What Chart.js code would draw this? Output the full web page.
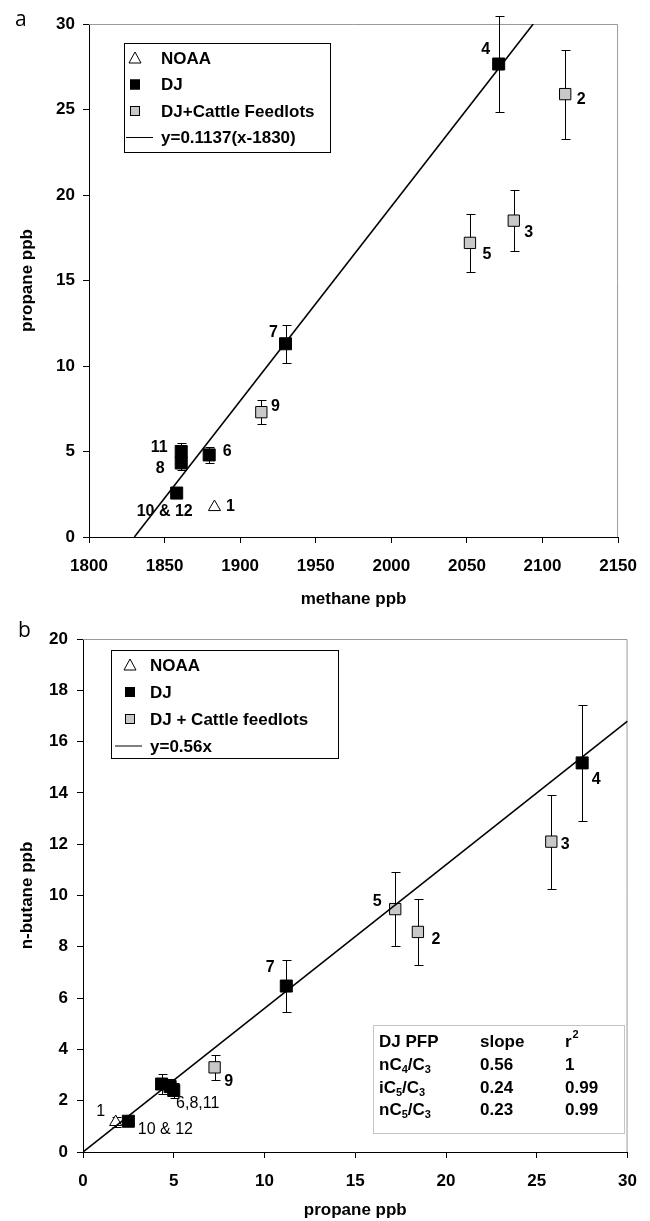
<!DOCTYPE html>
<html>
<head>
<meta charset="utf-8">
<script src="https://cdn.jsdelivr.net/npm/chart.js@4.4.1/dist/chart.umd.min.js"></script>
<style>
  html, body { margin: 0; padding: 0; background: #fff; }
  canvas { display: block; }
</style>
</head>
<body>
<canvas id="chartA" width="650" height="615"></canvas>
<canvas id="chartB" width="650" height="606"></canvas>
<script>
// ---- panel a : propane vs methane ----
const methaneNOAA = [1883];
const propaneNOAA = [1.75];
const propaneErrNOAA = [0];
const idsNOAA_a = ['1'];

const methaneDJ = [1858, 1861, 1861, 1879.5, 1930, 2071];
const propaneDJ = [2.57, 5.0, 4.33, 4.8, 11.3, 27.66];
const propaneErrDJ = [0.15, 0.5, 0.4, 0.45, 1.1, 2.8];
const idsDJ_a = ['10 & 12', '11', '8', '6', '7', '4'];

const methaneCattle = [1914, 2052, 2081, 2115];
const propaneCattle = [7.3, 17.2, 18.5, 25.9];
const propaneErrCattle = [0.7, 1.7, 1.8, 2.6];
const idsCattle_a = ['9', '5', '3', '2'];

const fitSlopeA = 0.1137;
const fitOffsetA = 1830;
const methaneTicks = { min: 1800, max: 2150, step: 50 };
const propaneTicksA = { min: 0, max: 30, step: 5 };

// ---- panel b : n-butane vs propane ----
const propaneNOAA_b = [1.8];
const butaneNOAA = [1.17];
const butaneErrNOAA = [0.2];
const idsNOAA_b = ['1'];

const propaneDJ_b = [2.5, 4.33, 4.8, 5.0, 11.2, 27.5];
const butaneDJ = [1.2, 2.65, 2.55, 2.4, 6.47, 15.17];
const butaneErrDJ = [0.1, 0.4, 0.3, 0.3, 1.0, 2.27];
const idsDJ_b = ['10 & 12', '', '', '6,8,11', '7', '4'];

const propaneCattle_b = [7.25, 17.2, 18.45, 25.8];
const butaneCattle = [3.3, 9.47, 8.58, 12.1];
const butaneErrCattle = [0.5, 1.43, 1.28, 1.83];
const idsCattle_b = ['9', '5', '2', '3'];

const fitSlopeB = 0.56;
const propaneTicksB = { min: 0, max: 30, step: 5 };
const butaneTicks = { min: 0, max: 20, step: 2 };

// table in panel b
const tableHead = ['DJ PFP', 'slope', 'r^2'];
const tableRatios = ['nC4/C3', 'iC5/C3', 'nC5/C3'];
const tableSlopes = ['0.56', '0.24', '0.23'];
const tableR2 = ['1', '0.99', '0.99'];

// label offsets (px) for the sample numbers
const offNOAA_a = [[16, 0]];
const offDJ_a = [[-12, 19], [-22, -4], [-21, 6], [18, -3], [-12, -11], [-13, -14]];
const offCattle_a = [[14, -6], [17, 12], [15, 12], [16, 5]];
const offNOAA_b = [[-15, -10]];
const offDJ_b = [[37, 8], [0, 0], [0, 0], [24, 13], [-16, -18], [14, 17]];
const offCattle_b = [[14, 14], [-18, -8], [18, 8], [14, 3]];

const FONT = '"Liberation Sans", Arial, sans-serif';
Chart.defaults.font.family = FONT;
Chart.defaults.color = '#000';

const pts = (xs, ys) => xs.map((x, i) => ({ x: x, y: ys[i] }));

function drawRich(ctx, text, x, y, size) {
  // digits after a letter become subscripts, ^n becomes superscript
  let cx = x;
  let i = 0;
  while (i < text.length) {
    const ch = text[i];
    if (ch === '^') {
      ctx.font = 'bold ' + Math.round(size * 0.65) + 'px ' + FONT;
      ctx.fillText(text[i + 1], cx + 1, y - size * 0.4);
      cx += ctx.measureText(text[i + 1]).width + 1;
      i += 2;
      continue;
    }
    const sub = /[0-9]/.test(ch) && i > 0 && /[A-Za-z]/.test(text[i - 1]);
    ctx.font = 'bold ' + (sub ? Math.round(size * 0.65) : size) + 'px ' + FONT;
    ctx.fillText(ch, cx, sub ? y + size * 0.3 : y);
    cx += ctx.measureText(ch).width;
    i++;
  }
}

function legendMarker(ctx, ds, x, y, x0, x1) {
  ctx.lineWidth = 1;
  ctx.strokeStyle = '#000';
  if (ds.showLine) {
    ctx.beginPath();
    ctx.moveTo(x0, y); ctx.lineTo(x1, y);
    ctx.stroke();
  } else if (ds.pointStyle === 'triangle') {
    ctx.fillStyle = '#fff';
    ctx.beginPath();
    ctx.moveTo(x, y - 6); ctx.lineTo(x + 6, y + 5); ctx.lineTo(x - 6, y + 5); ctx.closePath();
    ctx.fill(); ctx.stroke();
  } else {
    ctx.fillStyle = ds.backgroundColor;
    ctx.fillRect(x - 5, y - 5, 10, 10);
    ctx.strokeRect(x - 4.5, y - 4.5, 9, 9);
  }
}

const panelPlugin = {
  id: 'panel',
  beforeDatasetsDraw(chart) {
    const { ctx, chartArea: a } = chart;
    const xs = chart.scales.x, ys = chart.scales.y;
    ctx.save();
    // grey frame on top and right
    ctx.strokeStyle = '#9a9a9a';
    ctx.lineWidth = 1;
    ctx.beginPath();
    ctx.moveTo(a.left, a.top + 0.5);
    ctx.lineTo(a.right - 0.5, a.top + 0.5);
    ctx.lineTo(a.right - 0.5, a.bottom);
    ctx.stroke();
    // error bars
    ctx.strokeStyle = '#000';
    chart.data.datasets.forEach(ds => {
      if (!ds.errors) return;
      ds.data.forEach((p, j) => {
        const e = ds.errors[j];
        if (!e) return;
        const x = Math.round(xs.getPixelForValue(p.x)) + 0.5;
        const y1 = Math.round(ys.getPixelForValue(p.y + e)) + 0.5;
        const y2 = Math.round(ys.getPixelForValue(p.y - e)) + 0.5;
        ctx.beginPath();
        ctx.moveTo(x, y1); ctx.lineTo(x, y2);
        ctx.moveTo(x - 4, y1); ctx.lineTo(x + 5, y1);
        ctx.moveTo(x - 4, y2); ctx.lineTo(x + 5, y2);
        ctx.stroke();
      });
    });
    ctx.restore();
  },
  afterDatasetsDraw(chart, args, opts) {
    const { ctx } = chart;
    const xs = chart.scales.x, ys = chart.scales.y;
    ctx.save();
    ctx.fillStyle = '#000';
    ctx.textAlign = 'center';
    ctx.textBaseline = 'middle';
    // sample numbers
    chart.data.datasets.forEach(ds => {
      if (!ds.ids) return;
      ds.data.forEach((p, j) => {
        const t = ds.ids[j];
        if (!t) return;
        const o = ds.offsets[j];
        const light = ds.lightIds && ds.lightIds.includes(t);
        ctx.font = (light ? '' : 'bold ') + '16px ' + FONT;
        ctx.fillText(t, xs.getPixelForValue(p.x) + o[0], ys.getPixelForValue(p.y) + o[1]);
      });
    });

    // legend box
    const L = opts.legend;
    ctx.textAlign = 'left';
    ctx.fillStyle = '#fff';
    ctx.fillRect(L.left, L.top, L.right - L.left, L.bottom - L.top);
    ctx.strokeStyle = '#000';
    ctx.lineWidth = 1;
    ctx.strokeRect(L.left + 0.5, L.top + 0.5, L.right - L.left, L.bottom - L.top);
    chart.data.datasets.forEach((ds, i) => {
      const y = L.firstRow + i * L.rowH;
      legendMarker(ctx, ds, L.markX, y, L.lineX0, L.lineX1);
      ctx.fillStyle = '#000';
      ctx.font = 'bold 17px ' + FONT;
      ctx.fillText(ds.label, L.textX, y + 1);
    });

    // slope table
    const T = opts.table;
    if (T) {
      ctx.strokeStyle = '#c4c4c4';
      ctx.fillStyle = '#fff';
      ctx.fillRect(T.left, T.top, T.right - T.left, T.bottom - T.top);
      ctx.strokeRect(T.left + 0.5, T.top + 0.5, T.right - T.left, T.bottom - T.top);
      ctx.fillStyle = '#000';
      const rows = [tableHead].concat(tableRatios.map((r, i) => [r, tableSlopes[i], tableR2[i]]));
      rows.forEach((row, r) => {
        row.forEach((cell, c) => {
          drawRich(ctx, cell, T.cols[c], T.rows[r], 17);
        });
      });
    }

    // panel letter
    ctx.font = '21px "Open Sans", "DejaVu Sans", sans-serif';
    ctx.fillStyle = '#000';
    ctx.fillText(opts.letter.text, opts.letter.x, opts.letter.y);
    ctx.restore();
  }
};

function axisOptions(t, title, titlePad, tickPad, fitSize, horizontal) {
  return {
    type: 'linear',
    min: t.min,
    max: t.max,
    ticks: {
      stepSize: t.step, padding: tickPad, color: '#000',
      font: { size: 17, weight: 'bold' },
      callback: v => String(v)
    },
    grid: { drawOnChartArea: false, color: '#000', tickLength: 6, tickWidth: 1 },
    border: { color: '#000', width: 1 },
    title: { display: true, text: title, color: '#000', font: { size: 17, weight: 'bold' }, padding: titlePad },
    afterFit(scale) {
      if (horizontal) scale.height = fitSize; else scale.width = fitSize;
    }
  };
}

const markerDJ = { pointStyle: 'rect', pointRadius: 8.5, backgroundColor: '#000', borderColor: '#000', borderWidth: 1 };
const markerCattle = { pointStyle: 'rect', pointRadius: 8, backgroundColor: '#c8c8c8', borderColor: '#000', borderWidth: 1 };
const markerNOAA = { pointStyle: 'triangle', pointRadius: 7, backgroundColor: '#fff', borderColor: '#000', borderWidth: 1 };

// ---------- chart a ----------
new Chart(document.getElementById('chartA'), {
  type: 'scatter',
  data: {
    datasets: [
      Object.assign({ label: 'NOAA', data: pts(methaneNOAA, propaneNOAA), errors: propaneErrNOAA, ids: idsNOAA_a, offsets: offNOAA_a }, markerNOAA),
      Object.assign({ label: 'DJ', data: pts(methaneDJ, propaneDJ), errors: propaneErrDJ, ids: idsDJ_a, offsets: offDJ_a }, markerDJ),
      Object.assign({ label: 'DJ+Cattle Feedlots', data: pts(methaneCattle, propaneCattle), errors: propaneErrCattle, ids: idsCattle_a, offsets: offCattle_a }, markerCattle),
      {
        label: 'y=0.1137(x-1830)',
        data: [{ x: fitOffsetA, y: 0 }, { x: fitOffsetA + propaneTicksA.max / fitSlopeA, y: propaneTicksA.max }],
        showLine: true, pointRadius: 0, borderColor: '#000', borderWidth: 1.6, order: -1
      }
    ]
  },
  options: {
    responsive: false,
    animation: false,
    events: [],
    layout: { padding: { top: 24, right: 22, left: 0, bottom: 0 } },
    scales: {
      x: axisOptions(methaneTicks, 'methane ppb', { top: 0, bottom: 5 }, 13, 78, true),
      y: axisOptions(propaneTicksA, 'propane ppb', { top: 17, bottom: 0 }, 8, 89, false)
    },
    plugins: {
      legend: { display: false },
      tooltip: { enabled: false },
      panel: {
        letter: { text: 'a', x: 15, y: 20 },
        legend: { left: 124, top: 43, right: 330, bottom: 152, firstRow: 58, rowH: 26.5, markX: 135, textX: 161, lineX0: 126, lineX1: 153 }
      }
    }
  },
  plugins: [panelPlugin]
});

// ---------- chart b ----------
new Chart(document.getElementById('chartB'), {
  type: 'scatter',
  data: {
    datasets: [
      Object.assign({ label: 'NOAA', data: pts(propaneNOAA_b, butaneNOAA), errors: butaneErrNOAA, ids: idsNOAA_b, offsets: offNOAA_b, lightIds: ['1'] }, markerNOAA),
      Object.assign({ label: 'DJ', data: pts(propaneDJ_b, butaneDJ), errors: butaneErrDJ, ids: idsDJ_b, offsets: offDJ_b, lightIds: ['10 & 12', '6,8,11'] }, markerDJ),
      Object.assign({ label: 'DJ + Cattle feedlots', data: pts(propaneCattle_b, butaneCattle), errors: butaneErrCattle, ids: idsCattle_b, offsets: offCattle_b }, markerCattle),
      {
        label: 'y=0.56x',
        data: [{ x: 0, y: 0 }, { x: propaneTicksB.max, y: fitSlopeB * propaneTicksB.max }],
        showLine: true, pointRadius: 0, borderColor: '#000', borderWidth: 1.6, order: -1
      }
    ]
  },
  options: {
    responsive: false,
    animation: false,
    events: [],
    layout: { padding: { top: 24, right: 17, left: 0, bottom: 0 } },
    scales: {
      x: axisOptions(propaneTicksB, 'propane ppb', { top: 0, bottom: 0 }, 13, 69, true),
      y: axisOptions(butaneTicks, 'n-butane ppb', { top: 17, bottom: 0 }, 9, 83, false)
    },
    plugins: {
      legend: { display: false },
      tooltip: { enabled: false },
      panel: {
        letter: { text: 'b', x: 18, y: 16 },
        legend: { left: 111, top: 35, right: 338, bottom: 143, firstRow: 50, rowH: 27, markX: 130, textX: 150, lineX0: 115, lineX1: 142 },
        table: { left: 373, top: 410, right: 624, bottom: 518, rows: [427, 450, 473, 495], cols: [379, 480, 565] }
      }
    }
  },
  plugins: [panelPlugin]
});
</script>
</body>
</html>
